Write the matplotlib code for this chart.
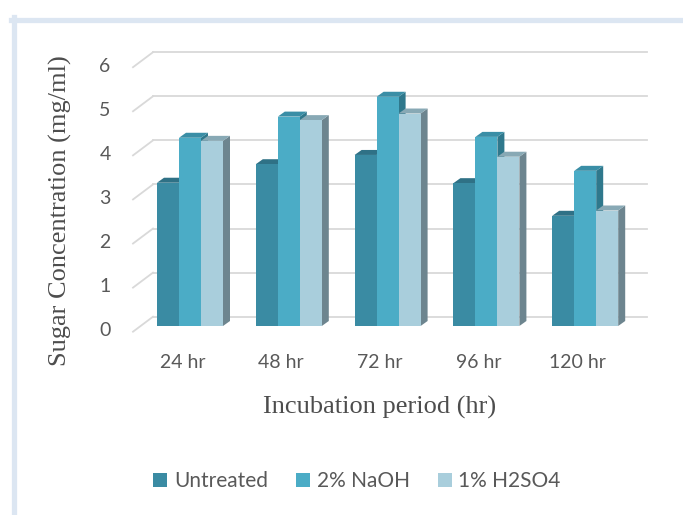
import matplotlib
matplotlib.use('Agg')
import matplotlib.pyplot as plt
from matplotlib.patches import Polygon, Rectangle, Patch
from matplotlib.lines import Line2D

# chart data
periods = ['24 hr', '48 hr', '72 hr', '96 hr', '120 hr']
treatments = ['Untreated', '2% NaOH', '1% H2SO4']
untreated = [3.25, 3.67, 3.88, 3.24, 2.50]
naoh = [4.27, 4.75, 5.20, 4.29, 3.52]
h2so4 = [4.20, 4.67, 4.82, 3.84, 2.62]
y_ticks = [0, 1, 2, 3, 4, 5, 6]

series = [untreated, naoh, h2so4]
front_cols = ['#3a8ba3', '#4bacc6', '#a9cedc']
top_cols = ['#2f7186', '#3a8ea6', '#88a9b5']
side_cols = ['#2b6677', '#2f788c', '#6d858f']

W, H = 683, 515
fig = plt.figure(figsize=(W / 100, H / 100), dpi=100)

# axes = front plane of the bars
ax_w, ax_h = 494, 264.5
ax = fig.add_axes([140.6 / W, 189 / H, ax_w / W, ax_h / H])
ax.set_xlim(-0.5, len(periods) - 0.5)
ax.set_ylim(0, 6)
ax.axis('off')

px_x = ax_w / len(periods)
px_y = ax_h / 6


def dx(p):
    return p / px_x


def dy(p):
    return p / px_y


grid_col = '#d9d9d9'
txt_col = '#595959'
sans = 'Lato'
serif = 'Liberation Serif'

# floor depth: front edge (-7.6, -5.7) px, back wall (+12.4, +9.3) px
x_left = -0.5
x_right = len(periods) - 0.5
for v in y_ticks:
    ax.plot([x_left + dx(-7.6), x_left + dx(12.4)], [v + dy(-5.7), v + dy(9.3)],
            color=grid_col, lw=1.3, clip_on=False, zorder=1)
    ax.plot([x_left + dx(12.4), x_right + dx(12.4)], [v + dy(9.3), v + dy(9.3)],
            color=grid_col, lw=1.3, clip_on=False, zorder=1)
    ax.text(x_left + dx(-30), v + dy(-5.0), str(v), ha='right', va='center',
            fontsize=14, color=txt_col, family=sans)

# 3d-looking bars
bw = 22 / px_x
ddx, ddy = dx(7), dy(5)
for i in range(len(periods)):
    for k, vals in enumerate(series):
        v = vals[i]
        x0 = i + (k - 1.5) * bw
        z = 3 + i * 3 + k
        side = [(x0 + bw, 0), (x0 + bw + ddx, ddy), (x0 + bw + ddx, v + ddy), (x0 + bw, v)]
        top = [(x0, v), (x0 + bw, v), (x0 + bw + ddx, v + ddy), (x0 + ddx, v + ddy)]
        ax.add_patch(Polygon(side, closed=True, fc=side_cols[k], ec='none', zorder=z, clip_on=False))
        ax.add_patch(Polygon(top, closed=True, fc=top_cols[k], ec='none', zorder=z, clip_on=False))
        ax.add_patch(Rectangle((x0, 0), bw, v, fc=front_cols[k], ec='none', zorder=z, clip_on=False))

for i, lab in enumerate(periods):
    ax.text(i + dx(-7.6), dy(-36), lab, ha='center', va='center',
            fontsize=14, color=txt_col, family=sans)

fig.text(380 / W, 1 - 414 / H, 'Incubation period (hr)', ha='center', va='baseline',
         fontsize=19, color='#4d4d4d', family=serif)
fig.text(60 / W, 1 - 211 / H, 'Sugar Concentration (mg/ml)', ha='center', va='center',
         rotation=90, fontsize=19, color='#4d4d4d', family=serif)

handles = [Patch(fc=c, ec='none') for c in front_cols]
fig.legend(handles, treatments, loc='center', bbox_to_anchor=(357 / W, 1 - 481 / H),
           ncol=3, frameon=False, handlelength=0.67, handleheight=0.67,
           handletextpad=0.32, columnspacing=1.35,
           prop={'family': sans, 'size': 15}, labelcolor=txt_col)

# light frame
fig.add_artist(Line2D([13.5 / W, 13.5 / W], [1 - 17 / H, 0], color='#dce6f2', lw=3.8))
fig.add_artist(Line2D([11 / W, 1], [1 - 19.5 / H, 1 - 19.5 / H], color='#dce6f2', lw=3.8))

fig.savefig('out.png', dpi=100)
